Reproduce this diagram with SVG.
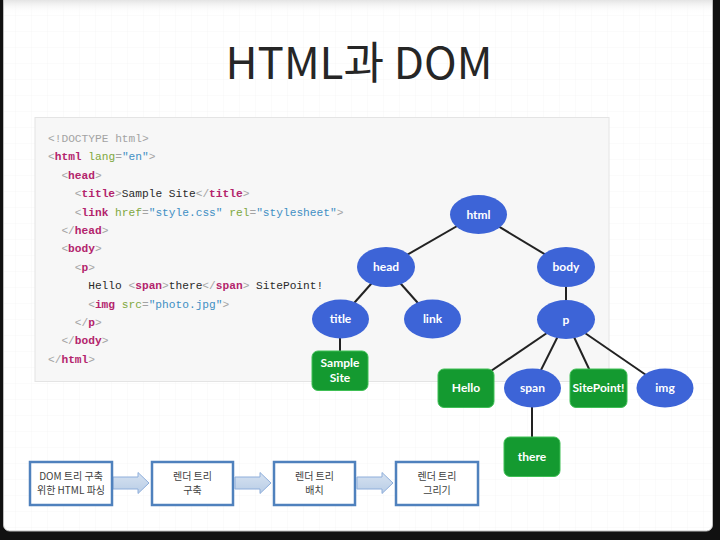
<svg xmlns="http://www.w3.org/2000/svg" width="720" height="540" viewBox="0 0 720 540">
<defs>
<pattern id="grid" width="16" height="16" patternUnits="userSpaceOnUse">
<path d="M16 0V16M0 16H16" fill="none" stroke="#f6f6f6" stroke-width="1"/>
</pattern>
<linearGradient id="topg" x1="0" y1="0" x2="0" y2="1">
<stop offset="0" stop-color="#e4e4e4"/>
<stop offset="1" stop-color="#ffffff" stop-opacity="0"/>
</linearGradient>
<linearGradient id="arrg" x1="0" y1="0" x2="0" y2="1">
<stop offset="0" stop-color="#d6e2f1"/>
<stop offset="1" stop-color="#b9cde6"/>
</linearGradient>
<style>
.code{font-family:"Liberation Mono","DejaVu Sans Mono",monospace;font-size:11.2px;fill:#2a2a2a}
.b{fill:#a3a3a3}
.t{fill:#b3246c;font-weight:bold}
.a{fill:#7fa83e}
.s{fill:#3f8fc4}
.bn ellipse{fill:#3d64d7}
.gn rect{fill:#149a30;stroke:#3fbf55;stroke-width:1}
.lbl{font-family:Lato,"Open Sans","Liberation Sans",sans-serif;font-weight:bold;font-size:12px;fill:#ffffff;text-anchor:middle}
.edge{stroke:#222;stroke-width:2;fill:none}
.fbox rect{fill:#ffffff;stroke:#4f81bd;stroke-width:2.5}
.ft{font-family:"Noto Sans CJK KR","Noto Sans",sans-serif;font-size:10px;fill:#404040;text-anchor:middle}
.arr{fill:url(#arrg);stroke:#8eaedb;stroke-width:1}
</style>
</defs>
<rect x="0" y="0" width="720" height="540" fill="#111"/>
<rect x="3.5" y="-10" width="709" height="541" rx="6" fill="#ffffff" stroke="#bdbdbd" stroke-width="1"/>
<rect x="4" y="0" width="708" height="530" fill="url(#grid)"/>
<rect x="4" y="0" width="708" height="14" fill="url(#topg)"/>

<text x="359" y="79" text-anchor="middle" font-family="'Noto Sans CJK KR','Noto Sans',sans-serif" font-size="44" fill="#262626">HTML과 DOM</text>

<g id="code">
<rect x="35" y="117.5" width="574" height="264" fill="#f7f7f7" stroke="#e4e4e4" stroke-width="1"/>
<text class="code" x="48" y="142"><tspan class="b">&lt;!DOCTYPE html&gt;</tspan></text>
<text class="code" x="48" y="160.4"><tspan class="b">&lt;</tspan><tspan class="t">html</tspan> <tspan class="a">lang</tspan><tspan class="b">=</tspan><tspan class="s">"en"</tspan><tspan class="b">&gt;</tspan></text>
<text class="code" x="61.4" y="178.8"><tspan class="b">&lt;</tspan><tspan class="t">head</tspan><tspan class="b">&gt;</tspan></text>
<text class="code" x="74.8" y="197.2"><tspan class="b">&lt;</tspan><tspan class="t">title</tspan><tspan class="b">&gt;</tspan>Sample Site<tspan class="b">&lt;/</tspan><tspan class="t">title</tspan><tspan class="b">&gt;</tspan></text>
<text class="code" x="74.8" y="215.6"><tspan class="b">&lt;</tspan><tspan class="t">link</tspan> <tspan class="a">href</tspan><tspan class="b">=</tspan><tspan class="s">"style.css"</tspan> <tspan class="a">rel</tspan><tspan class="b">=</tspan><tspan class="s">"stylesheet"</tspan><tspan class="b">&gt;</tspan></text>
<text class="code" x="61.4" y="234"><tspan class="b">&lt;/</tspan><tspan class="t">head</tspan><tspan class="b">&gt;</tspan></text>
<text class="code" x="61.4" y="252.4"><tspan class="b">&lt;</tspan><tspan class="t">body</tspan><tspan class="b">&gt;</tspan></text>
<text class="code" x="74.8" y="270.8"><tspan class="b">&lt;</tspan><tspan class="t">p</tspan><tspan class="b">&gt;</tspan></text>
<text class="code" x="88.2" y="289.2">Hello <tspan class="b">&lt;</tspan><tspan class="t">span</tspan><tspan class="b">&gt;</tspan>there<tspan class="b">&lt;/</tspan><tspan class="t">span</tspan><tspan class="b">&gt;</tspan> SitePoint!</text>
<text class="code" x="88.2" y="307.6"><tspan class="b">&lt;</tspan><tspan class="t">img</tspan> <tspan class="a">src</tspan><tspan class="b">=</tspan><tspan class="s">"photo.jpg"</tspan><tspan class="b">&gt;</tspan></text>
<text class="code" x="74.8" y="326"><tspan class="b">&lt;/</tspan><tspan class="t">p</tspan><tspan class="b">&gt;</tspan></text>
<text class="code" x="61.4" y="344.4"><tspan class="b">&lt;/</tspan><tspan class="t">body</tspan><tspan class="b">&gt;</tspan></text>
<text class="code" x="48" y="362.8"><tspan class="b">&lt;/</tspan><tspan class="t">html</tspan><tspan class="b">&gt;</tspan></text>
</g>

<g id="edges">
<line class="edge" x1="478" y1="214" x2="386" y2="267"/>
<line class="edge" x1="478" y1="214" x2="566" y2="267"/>
<line class="edge" x1="386" y1="267" x2="340" y2="319"/>
<line class="edge" x1="386" y1="267" x2="432" y2="319"/>
<line class="edge" x1="566" y1="267" x2="566" y2="320"/>
<line class="edge" x1="340" y1="319" x2="340" y2="371"/>
<line class="edge" x1="566" y1="320" x2="466" y2="388"/>
<line class="edge" x1="566" y1="320" x2="532" y2="388"/>
<line class="edge" x1="566" y1="320" x2="598" y2="388"/>
<line class="edge" x1="566" y1="320" x2="665" y2="388"/>
<line class="edge" x1="532" y1="388" x2="532" y2="457"/>
</g>

<g id="n-html" class="bn"><ellipse cx="478.5" cy="214.5" rx="28.5" ry="19.5"/><text class="lbl" x="478.5" y="218.5">html</text></g>
<g id="n-head" class="bn"><ellipse cx="386" cy="267" rx="29" ry="20"/><text class="lbl" x="386" y="271">head</text></g>
<g id="n-body" class="bn"><ellipse cx="566" cy="267" rx="29" ry="20"/><text class="lbl" x="566" y="271">body</text></g>
<g id="n-title" class="bn"><ellipse cx="340.5" cy="319" rx="28.5" ry="19.5"/><text class="lbl" x="340.5" y="323">title</text></g>
<g id="n-link" class="bn"><ellipse cx="432.5" cy="319" rx="28.5" ry="19.5"/><text class="lbl" x="432.5" y="323">link</text></g>
<g id="n-p" class="bn"><ellipse cx="566" cy="319.5" rx="29" ry="19.5"/><text class="lbl" x="566" y="323.5">p</text></g>
<g id="n-sample" class="gn"><rect x="312" y="351" width="56" height="39.5" rx="6"/><text class="lbl" x="340" y="367">Sample</text><text class="lbl" x="340" y="382">Site</text></g>
<g id="n-hello" class="gn"><rect x="438" y="369" width="56" height="38.5" rx="6"/><text class="lbl" x="466" y="392">Hello</text></g>
<g id="n-span" class="bn"><ellipse cx="532.5" cy="388" rx="28.5" ry="19.5"/><text class="lbl" x="532.5" y="392">span</text></g>
<g id="n-sitepoint" class="gn"><rect x="570" y="369" width="57" height="38.5" rx="6"/><text class="lbl" x="598.5" y="392">SitePoint!</text></g>
<g id="n-img" class="bn"><ellipse cx="665" cy="388" rx="28.5" ry="19.5"/><text class="lbl" x="665" y="392">img</text></g>
<g id="n-there" class="gn"><rect x="504" y="437" width="56" height="39.5" rx="6"/><text class="lbl" x="532" y="461">there</text></g>

<g id="flow-arrows">
<path class="arr" d="M113 477H138V472.5L149 483L138 493.5V489H113Z"/>
<path class="arr" d="M235 477H260V472.5L271 483L260 493.5V489H235Z"/>
<path class="arr" d="M357 477H382V472.5L393 483L382 493.5V489H357Z"/>
</g>
<g id="f1" class="fbox"><rect x="30" y="462" width="82" height="43"/><text class="ft" x="71" y="480">DOM 트리 구축</text><text class="ft" x="71" y="494">위한 HTML 파싱</text></g>
<g id="f2" class="fbox"><rect x="152" y="462" width="81" height="43"/><text class="ft" x="192.5" y="480">렌더 트리</text><text class="ft" x="192.5" y="494">구축</text></g>
<g id="f3" class="fbox"><rect x="274" y="462" width="81" height="43"/><text class="ft" x="314.5" y="480">렌더 트리</text><text class="ft" x="314.5" y="494">배치</text></g>
<g id="f4" class="fbox"><rect x="396" y="462" width="82" height="43"/><text class="ft" x="437" y="480">렌더 트리</text><text class="ft" x="437" y="494">그리기</text></g>
</svg>
